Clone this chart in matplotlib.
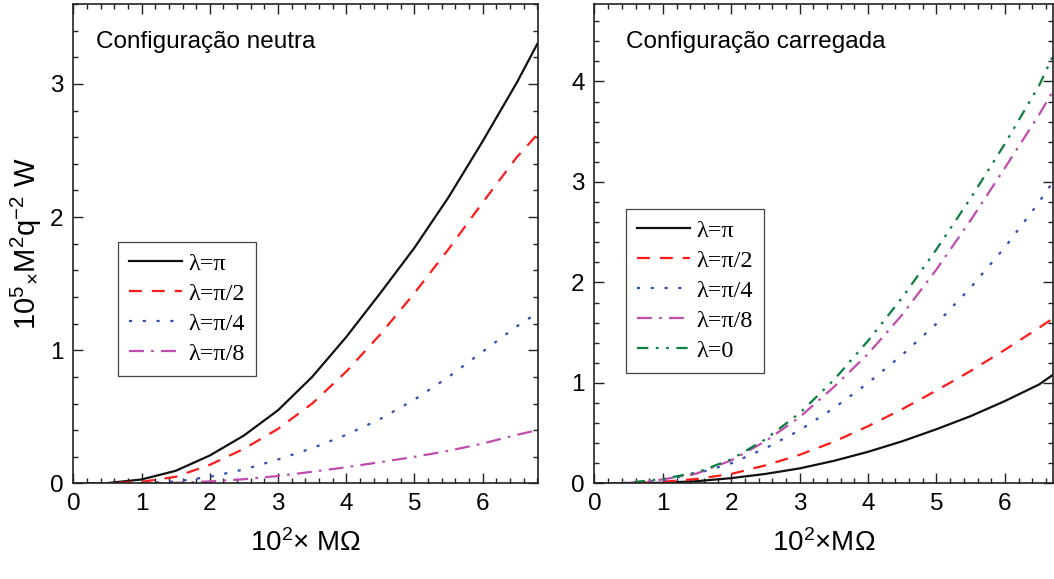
import matplotlib
matplotlib.use('Agg')
import matplotlib.pyplot as plt
from matplotlib.ticker import MultipleLocator

plt.rcParams['font.family'] = ['Liberation Sans', 'DejaVu Sans']
plt.rcParams['mathtext.fontset'] = 'custom'
plt.rcParams['mathtext.rm'] = 'Liberation Sans'
plt.rcParams['mathtext.it'] = 'Liberation Sans:italic'

# Neutral configuration (left panel)
x_neutral = [0, 0.5, 1, 1.5, 2, 2.5, 3, 3.5, 4, 4.5, 5, 5.5, 6, 6.5, 6.8]
neutral_pi = [0, 0.003, 0.03, 0.095, 0.21, 0.36, 0.55, 0.80, 1.10, 1.43, 1.77, 2.15, 2.57, 3.01, 3.30]
neutral_pi2 = [0, 0.002, 0.012, 0.05, 0.14, 0.26, 0.41, 0.60, 0.84, 1.12, 1.43, 1.76, 2.11, 2.45, 2.62]
neutral_pi4 = [0, 0, 0.002, 0.015, 0.05, 0.105, 0.18, 0.265, 0.365, 0.485, 0.63, 0.80, 0.99, 1.18, 1.28]
neutral_pi8 = [0, 0, 0.001, 0.005, 0.015, 0.032, 0.056, 0.088, 0.122, 0.16, 0.20, 0.245, 0.30, 0.365, 0.40]

# Charged configuration (right panel)
x_charged = [0, 0.5, 1, 1.5, 2, 2.5, 3, 3.5, 4, 4.5, 5, 5.5, 6, 6.5, 6.7]
charged_pi = [0, 0.001, 0.007, 0.023, 0.053, 0.095, 0.15, 0.225, 0.315, 0.42, 0.54, 0.67, 0.82, 0.985, 1.08]
charged_pi2 = [0, 0.003, 0.017, 0.045, 0.095, 0.18, 0.285, 0.415, 0.57, 0.74, 0.925, 1.12, 1.33, 1.55, 1.64]
charged_pi4 = [0, 0.005, 0.03, 0.10, 0.20, 0.35, 0.53, 0.75, 1.00, 1.28, 1.59, 1.95, 2.35, 2.80, 3.00]
charged_pi8 = [0, 0.006, 0.04, 0.10, 0.23, 0.42, 0.66, 0.96, 1.29, 1.68, 2.13, 2.62, 3.14, 3.67, 3.90]
charged_0 = [0, 0.007, 0.045, 0.11, 0.24, 0.44, 0.70, 1.03, 1.42, 1.85, 2.33, 2.84, 3.38, 3.96, 4.25]

labels = ['λ=π', 'λ=π/2', 'λ=π/4', 'λ=π/8', 'λ=0']
colors = ['#111111', '#ff1a1a', '#2f4fb5', '#c04cb0', '#0a7f3f']
styles = ['-', (0, (5.8, 4.5)), (0, (1.4, 4.8)),
          (0, (6.7, 3.25, 1.2, 3.25)), (0, (5.1, 3.4, 1.2, 3.4, 1.2, 3.4))]

fig = plt.figure(figsize=(10.54, 5.79), dpi=100)
ax1 = fig.add_axes([0.0696, 0.165, 0.4408, 0.828])
ax2 = fig.add_axes([0.564, 0.165, 0.4355, 0.828])

for i, y in enumerate([neutral_pi, neutral_pi2, neutral_pi4, neutral_pi8]):
    ax1.plot(x_neutral, y, color=colors[i], ls=styles[i], lw=1.6, label=labels[i])
for i, y in enumerate([charged_pi, charged_pi2, charged_pi4, charged_pi8, charged_0]):
    ax2.plot(x_charged, y, color=colors[i], ls=styles[i], lw=1.6, label=labels[i])

ax1.set_xlim(0, 6.81)
ax1.set_ylim(0, 3.6)
ax2.set_xlim(0, 6.71)
ax2.set_ylim(0, 4.77)

for ax in (ax1, ax2):
    ax.xaxis.set_major_locator(MultipleLocator(1))
    ax.xaxis.set_minor_locator(MultipleLocator(0.2))
    ax.yaxis.set_major_locator(MultipleLocator(1))
    ax.yaxis.set_minor_locator(MultipleLocator(0.2))
    ax.tick_params(which='both', direction='in', top=True, right=True,
                   width=1.0, color='#222222', labelsize=17.5, pad=7)
    ax.tick_params(which='major', length=7)
    ax.tick_params(which='minor', length=3.5)
    for s in ax.spines.values():
        s.set_linewidth(1.2)
        s.set_color('#222222')

ax1.set_xlabel(r'10$^2$× MΩ', fontsize=20, labelpad=10)
ax2.set_xlabel(r'10$^2$×MΩ', fontsize=20, labelpad=10)
ax1.set_ylabel(r'10$^5$$_{×}$M$^2$q$^{-2}$ W', fontsize=21, labelpad=4)

ax1.text(0.048, 0.92, 'Configuração neutra', transform=ax1.transAxes,
         fontsize=17.5, va='center', ha='left')
ax2.text(0.068, 0.92, 'Configuração carregada', transform=ax2.transAxes,
         fontsize=17.5, va='center', ha='left')

leg_kw = dict(prop={'family': ['Liberation Serif', 'DejaVu Serif'], 'size': 17.5},
              frameon=True, fancybox=False, framealpha=1, edgecolor='#444444',
              borderaxespad=0, handlelength=2.2, handletextpad=0.25,
              labelspacing=0.33, borderpad=0.45, loc='upper left')
l1 = ax1.legend(bbox_to_anchor=(0.096, 0.504), **leg_kw)
l2 = ax2.legend(bbox_to_anchor=(0.068, 0.573), **leg_kw)
for l in (l1, l2):
    l.get_frame().set_linewidth(0.9)

plt.savefig('out.png', dpi=100)
